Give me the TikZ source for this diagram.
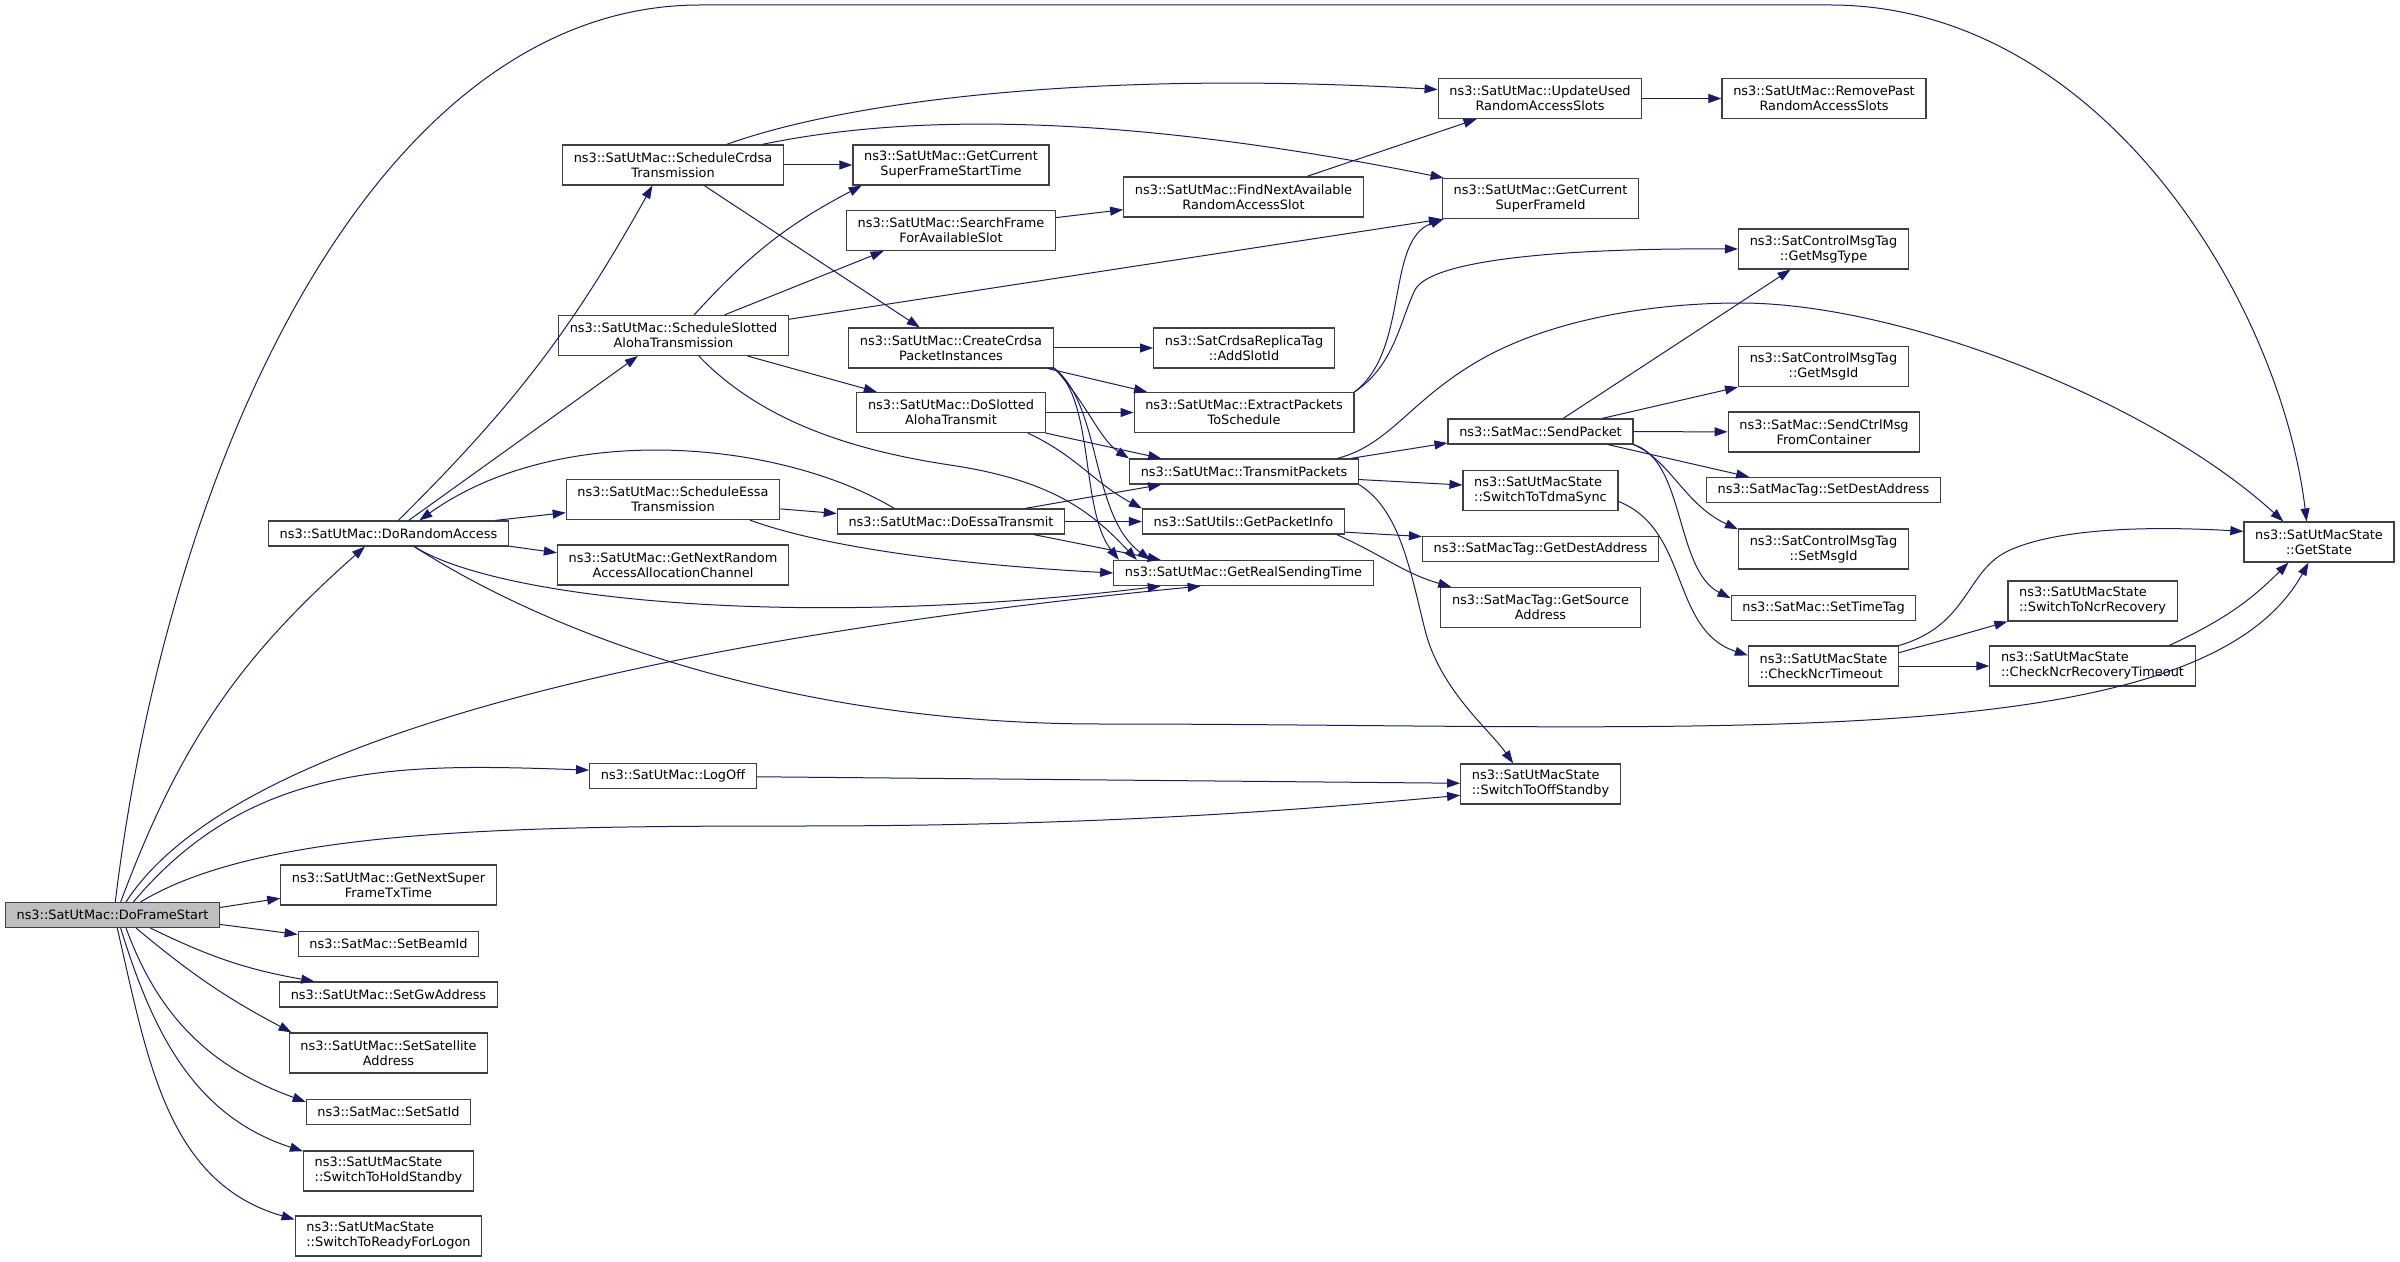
\documentclass[tikz,border=0pt]{standalone}
\usepackage{fontspec}
\setmainfont{DejaVu Sans}
\usepackage{tikz}
\usetikzlibrary{arrows.meta}
\definecolor{callblue}{HTML}{191970}
\definecolor{rootgray}{HTML}{BFBFBF}
\definecolor{boxgray}{HTML}{404040}

\begin{document}
\begin{tikzpicture}[->,>={Triangle[length=6.5pt,width=4.5pt]},x=0.5pt,y=-0.5pt,
                    callblue,line width=0.5pt,
                    fn node/.style={draw=boxgray,fill=white,text=black,line width=0.6pt,
                      font=\fontsize{6.45pt}{7.5pt}\selectfont,inner xsep=5.6pt,inner ysep=0pt,
                      minimum height=12.5pt,align=center},
                    two line/.style={fn node,minimum height=20pt},
                    left line/.style={two line,align=left},
                    root node/.style={fn node,fill=rootgray}]

		\useasboundingbox (0,0) rectangle (2400,1262);

		\node[root node] (1) at (112.5,915) {ns3::SatUtMac::DoFrameStart};
		\node[fn node] (2) at (388.5,533.5) {ns3::SatUtMac::DoRandomAccess};
		\node[two line] (3) at (673,165) {ns3::SatUtMac::ScheduleCrdsa\\Transmission};
		\node[two line] (4) at (1540,98.5) {ns3::SatUtMac::UpdateUsed\\RandomAccessSlots};
		\node[two line] (5) at (1824,98.5) {ns3::SatUtMac::RemovePast\\RandomAccessSlots};
		\node[two line] (6) at (1540.5,198.5) {ns3::SatUtMac::GetCurrent\\SuperFrameId};
		\node[two line] (7) at (951,165) {ns3::SatUtMac::GetCurrent\\SuperFrameStartTime};
		\node[two line] (8) at (951,348) {ns3::SatUtMac::CreateCrdsa\\PacketInstances};
		\node[two line] (9) at (1244,348) {ns3::SatCrdsaReplicaTag\\::AddSlotId};
		\node[two line] (10) at (1244,412.5) {ns3::SatUtMac::ExtractPackets\\ToSchedule};
		\node[two line] (11) at (1823.5,249) {ns3::SatControlMsgTag\\::GetMsgType};
		\node[fn node] (12) at (1243.5,573) {ns3::SatUtMac::GetRealSendingTime};
		\node[fn node] (13) at (1244,471.5) {ns3::SatUtMac::TransmitPackets};
		\node[two line] (14) at (2319,542) {ns3::SatUtMacState\\::GetState};
		\node[fn node] (15) at (1540.5,431.5) {ns3::SatMac::SendPacket};
		\node[two line] (16) at (1823.5,366.5) {ns3::SatControlMsgTag\\::GetMsgId};
		\node[two line] (17) at (1824,432) {ns3::SatMac::SendCtrlMsg\\FromContainer};
		\node[fn node] (18) at (1823.5,490) {ns3::SatMacTag::SetDestAddress};
		\node[two line] (19) at (1823.5,549) {ns3::SatControlMsgTag\\::SetMsgId};
		\node[fn node] (20) at (1823.5,608) {ns3::SatMac::SetTimeTag};
		\node[left line] (21) at (1540.5,490.5) {ns3::SatUtMacState\\::SwitchToTdmaSync};
		\node[left line] (22) at (1823.5,666) {ns3::SatUtMacState\\::CheckNcrTimeout};
		\node[left line] (23) at (2092.5,666) {ns3::SatUtMacState\\::CheckNcrRecoveryTimeout};
		\node[left line] (24) at (2092.5,601) {ns3::SatUtMacState\\::SwitchToNcrRecovery};
		\node[left line] (25) at (1540.5,784) {ns3::SatUtMacState\\::SwitchToOffStandby};
		\node[fn node] (26) at (1243.5,521.5) {ns3::SatUtils::GetPacketInfo};
		\node[fn node] (27) at (1540.5,549) {ns3::SatMacTag::GetDestAddress};
		\node[two line] (28) at (1540.5,607.5) {ns3::SatMacTag::GetSource\\Address};
		\node[two line] (29) at (673.5,335.5) {ns3::SatUtMac::ScheduleSlotted\\AlohaTransmission};
		\node[two line] (30) at (951,412.5) {ns3::SatUtMac::DoSlotted\\AlohaTransmit};
		\node[two line] (31) at (951,230.5) {ns3::SatUtMac::SearchFrame\\ForAvailableSlot};
		\node[two line] (32) at (1243.5,197) {ns3::SatUtMac::FindNextAvailable\\RandomAccessSlot};
		\node[two line] (33) at (673,499.5) {ns3::SatUtMac::ScheduleEssa\\Transmission};
		\node[fn node] (34) at (951,521.5) {ns3::SatUtMac::DoEssaTransmit};
		\node[two line] (35) at (673,565) {ns3::SatUtMac::GetNextRandom\\AccessAllocationChannel};
		\node[fn node] (36) at (673,776) {ns3::SatUtMac::LogOff};
		\node[two line] (37) at (388.5,885) {ns3::SatUtMac::GetNextSuper\\FrameTxTime};
		\node[fn node] (38) at (388.5,944) {ns3::SatMac::SetBeamId};
		\node[fn node] (39) at (388.5,994.5) {ns3::SatUtMac::SetGwAddress};
		\node[two line] (40) at (388.5,1053) {ns3::SatUtMac::SetSatellite\\Address};
		\node[fn node] (41) at (388.5,1112) {ns3::SatMac::SetSatId};
		\node[left line] (42) at (388.5,1171) {ns3::SatUtMacState\\::SwitchToHoldStandby};
		\node[left line] (43) at (388.5,1236) {ns3::SatUtMacState\\::SwitchToReadyForLogon};

		\path
		(1.4) edge (37.-173)
		(1.-5) edge (38.174)
		(1.-19) edge [bend right=8] (39.170)
		(1.-29) edge [bend right=6] (40.168)
		(1.-44) edge [out=-70,in=160] (41.173)
		(1.-58) edge [out=-73,in=162] (42.167)
		(1.-70) edge [out=-77,in=164] (43.170)
		(1.58) edge [bend left=14] (2.-151)
		(1.32) edge [out=50,in=178] (36.176)
		(2.53) edge [bend right=8] (3.-135)
		(2.33) edge (29.-150)
		(2.7) edge (33.-173)
		(2.-6) edge (35.174)
		(3) edge (7)
		(3) edge (8)
		(29.45) edge [bend left=10] (7.-167)
		(29.22) edge (31.-163)
		(29.8) edge (6.south west)
		(29) edge (30)
		(31.7) edge (32.-174)
		(32.18) edge (4.-162)
		(4) edge (5)
		(8) edge (9)
		(8.-12) edge (10.168)
		(30) edge (10)
		(30.south east) edge (13.171)
		(30.-15) edge [out=-25,in=152] (26.north west)
		(34.10) edge (13.-171)
		(34) edge (26)
		(34.-9) edge (12.171)
		(33.-5) edge (34.176)
		(33.-15) edge [out=-20,in=177,looseness=0.7] (12.west)
		(13.7) edge (15.-173)
		(13.-4) edge (21.176)
		(26.-6) edge (27.174)
		(26.-8) edge [out=-24,in=164] (28.167)
		(15.30) edge (11.-148)
		(15.12) edge (16.south west)
		(15) edge (17)
		(15.-11) edge (18.170)
		(22.10) edge (24.south west)
		(22) edge (23)
		(23.15) edge [out=25,in=-135] (14.-146)
		(36) edge (25);

		\draw (1.78) .. controls (170,450) and (380,5) .. (700,5) -- (1830,5)
		      .. controls (2100,5) and (2280,300) .. (14.121);
		\draw (1.44) .. controls (230,740) and (650,640) .. (12.-163);
		\draw (1.25) .. controls (260,830) and (500,826) .. (800,826)
		      .. controls (1100,826) and (1300,810) .. (25.-172);
		\draw (2.-27) .. controls (500,600) and (800,630) .. (12.-171);
		\draw (2.-27) .. controls (560,640) and (800,724) .. (1100,724)
		      .. controls (1700,724) and (2200,760) .. (14.-117);
		\draw (34.167) .. controls (780,440) and (560,420) .. (2.23);
		\draw (3.21) .. controls (850,100) and (1100,70) .. (4.175);
		\draw (3.13) .. controls (880,120) and (1080,105) .. (6.168);
		\draw (29.-39) .. controls (760,420) and (850,450) .. (950,465)
		      .. controls (1050,480) and (1090,510) .. (12.173);
		\draw (8.-11) .. controls (1085,400) and (1100,440) .. (13.north west);
		\draw (8.-11) .. controls (1095,400) and (1080,510) .. (12.174);
		\draw (8.-11) .. controls (1102,405) and (1090,515) .. (12.172);
		\draw (10.north east) .. controls (1410,350) and (1385,240) .. (6.-168);
		\draw (10.north east) .. controls (1395,365) and (1400,320) .. (1415,290)
		      .. controls (1430,260) and (1560,248) .. (11.west);
		\draw (13.8) .. controls (1390,445) and (1410,400) .. (1480,360)
		      .. controls (1550,320) and (1650,303) .. (1740,303)
		      .. controls (1900,303) and (2150,400) .. (14.150);
		\draw (13.south east) .. controls (1400,510) and (1410,570) .. (1425,630)
		      .. controls (1440,690) and (1490,730) .. (25.143);
		\draw (15.south east) .. controls (1670,460) and (1685,505) .. (19.167);
		\draw (15.south east) .. controls (1685,460) and (1675,570) .. (20.174);
		\draw (21.-8) .. controls (1690,530) and (1670,630) .. (22.172);
		\draw (22.north east) .. controls (1970,625) and (1965,570) .. (2010,550)
		      .. controls (2060,528) and (2150,526) .. (14.172);
	\end{tikzpicture}
\end{document}
